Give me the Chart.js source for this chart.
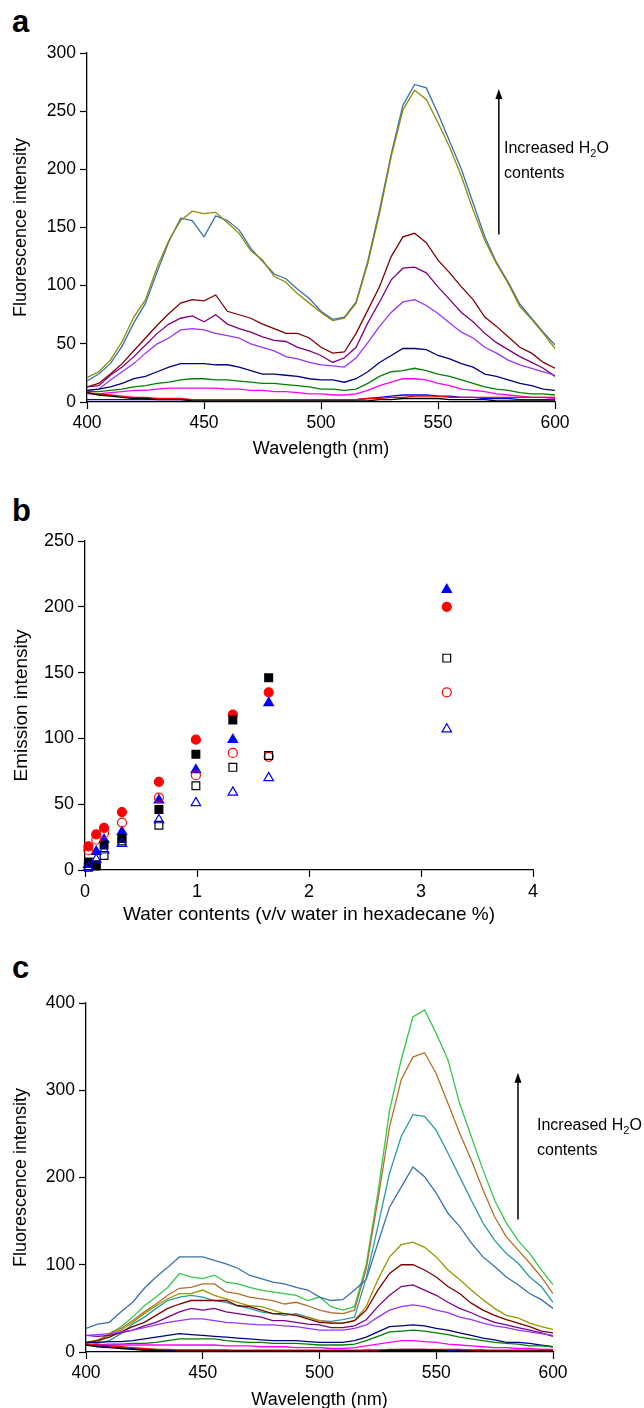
<!DOCTYPE html>
<html>
<head>
<meta charset="utf-8">
<script src="https://cdn.jsdelivr.net/npm/chart.js@4.4.1/dist/chart.umd.min.js"></script>
<style>
    body { margin: 0; width: 644px; height: 1408px; overflow: hidden; background: #fff; position: relative; font-family: "Liberation Sans", Arial, sans-serif; }
    canvas { position: absolute; left: 0; }
    .letter { position: absolute; left: 12px; font-weight: bold; font-size: 31px; line-height: 31px; }
    .note { position: absolute; font-size: 16px; line-height: 25px; color: #000; }
    .note sub { font-size: 11px; vertical-align: -4px; line-height: 0; }
</style>
</head>
<body>
<div class="letter" style="top:6px">a</div>
<div class="letter" style="top:495px">b</div>
<div class="letter" style="top:952px">c</div>

<canvas id="spectraA" width="644" height="470" style="top:0px"></canvas>
<canvas id="emissionB" width="644" height="470" style="top:470px"></canvas>
<canvas id="spectraC" width="644" height="480" style="top:940px"></canvas>

<div class="note" style="left:504px; top:135px">Increased H<sub>2</sub>O<br>contents</div>
<div class="note" style="left:537px; top:1112px">Increased H<sub>2</sub>O<br>contents</div>

<script>
// wavelength grid (nm)
const wavelengths = [400, 405, 410, 415, 420, 425, 430, 435, 440, 445, 450, 455, 460, 465, 470, 475, 480, 485, 490, 495,
    500, 505, 510, 515, 520, 525, 530, 535, 540, 545, 550, 555, 560, 565, 570, 575, 580, 585, 590, 595, 600];

// panel a spectra
const aBlack    = [8, 6, 5, 4, 3, 3, 2, 2, 2, 1, 1, 1, 1, 1, 1, 1, 1, 1, 1, 1, 1, 1, 1, 1, 1, 2, 2, 3, 3, 3, 3, 2, 2, 2, 2, 1, 1, 1, 1, 1, 1];
const aBlue     = [2, 2, 2, 2, 2, 2, 2, 2, 2, 2, 2, 2, 2, 2, 2, 2, 2, 2, 2, 2, 2, 2, 2, 2, 3, 4, 5, 6, 6, 6, 5, 5, 4, 4, 3, 3, 3, 2, 2, 2, 2];
const aRed      = [8, 7, 6, 5, 4, 4, 3, 3, 3, 2, 2, 2, 2, 2, 2, 2, 2, 2, 2, 2, 2, 2, 2, 2, 3, 3, 4, 4, 5, 5, 5, 4, 4, 4, 4, 4, 4, 4, 4, 4, 4];
const aMagenta  = [7, 7, 8, 9, 10, 10, 11, 12, 12, 12, 12, 12, 11, 11, 10, 10, 9, 9, 8, 7, 7, 6, 6, 7, 10, 14, 17, 20, 20, 19, 16, 14, 11, 10, 9, 7, 6, 5, 4, 4, 3];
const aGreen    = [9, 9, 10, 11, 13, 14, 16, 17, 19, 20, 20, 19, 19, 18, 17, 16, 16, 15, 14, 13, 11, 11, 10, 11, 16, 22, 26, 27, 29, 27, 24, 22, 19, 16, 13, 11, 10, 8, 7, 7, 6];
const aNavy     = [10, 11, 13, 16, 20, 22, 26, 30, 33, 33, 33, 32, 32, 30, 27, 24, 24, 23, 22, 20, 19, 19, 17, 20, 26, 34, 40, 46, 46, 45, 40, 37, 33, 30, 24, 22, 19, 16, 14, 11, 10];
const aViolet   = [10, 11, 19, 26, 33, 42, 50, 55, 62, 63, 62, 59, 57, 55, 50, 47, 44, 39, 37, 34, 32, 31, 30, 38, 51, 65, 77, 86, 88, 83, 76, 68, 60, 55, 47, 42, 36, 32, 29, 26, 23];
const aPurple   = [13, 14, 23, 30, 39, 49, 59, 67, 72, 74, 69, 75, 67, 63, 60, 56, 53, 52, 47, 44, 40, 34, 38, 47, 68, 86, 105, 115, 116, 111, 99, 88, 77, 69, 59, 51, 45, 39, 34, 29, 22];
const aDarkred  = [13, 16, 24, 33, 44, 55, 66, 76, 85, 88, 87, 92, 78, 75, 72, 67, 63, 59, 59, 55, 47, 42, 43, 59, 79, 99, 125, 142, 145, 137, 122, 111, 99, 88, 73, 65, 56, 47, 42, 34, 29];
const aOlive    = [21, 26, 36, 52, 73, 88, 116, 139, 156, 164, 162, 163, 154, 145, 130, 122, 108, 103, 93, 85, 77, 70, 72, 85, 119, 162, 211, 251, 268, 260, 240, 219, 194, 165, 139, 119, 102, 82, 71, 59, 46];
const aSteel    = [18, 24, 33, 48, 68, 85, 112, 138, 158, 156, 142, 160, 156, 148, 132, 121, 110, 106, 97, 89, 78, 71, 73, 86, 121, 165, 213, 255, 273, 270, 248, 224, 200, 171, 142, 120, 103, 84, 72, 60, 49];

// panel c spectra
const cBlack    = [8, 6, 5, 4, 3, 2, 2, 1, 1, 1, 1, 1, 1, 1, 1, 1, 1, 1, 1, 1, 1, 1, 1, 1, 1, 1, 2, 2, 2, 2, 2, 1, 1, 1, 1, 1, 1, 1, 1, 1, 1];
const cBlue     = [9, 7, 6, 5, 4, 3, 3, 2, 2, 2, 2, 2, 2, 1, 1, 1, 1, 1, 1, 1, 1, 1, 1, 1, 2, 2, 2, 3, 3, 3, 2, 2, 2, 2, 2, 1, 1, 1, 1, 1, 1];
const cRed      = [9, 8, 7, 6, 5, 4, 3, 3, 2, 2, 2, 2, 2, 2, 2, 2, 2, 2, 2, 2, 2, 2, 2, 2, 2, 2, 3, 3, 3, 3, 3, 3, 3, 2, 2, 2, 2, 2, 2, 2, 2];
const cMagenta  = [8, 8, 8, 8, 8, 8, 8, 8, 8, 8, 8, 8, 7, 7, 7, 6, 6, 6, 5, 5, 5, 4, 4, 5, 7, 9, 11, 13, 13, 12, 11, 9, 8, 7, 6, 5, 5, 4, 4, 3, 3];
const cDkGreen  = [8, 8, 9, 9, 10, 10, 11, 13, 15, 15, 15, 15, 13, 12, 11, 11, 10, 10, 10, 9, 8, 8, 8, 9, 13, 18, 23, 24, 25, 24, 22, 20, 17, 15, 13, 11, 10, 9, 7, 7, 6];
const cNavy     = [11, 11, 12, 12, 13, 15, 17, 19, 21, 20, 19, 18, 17, 16, 15, 14, 13, 13, 13, 12, 11, 11, 11, 13, 17, 23, 29, 30, 31, 30, 27, 25, 22, 19, 16, 14, 11, 11, 10, 8, 6];
const cViolet   = [19, 20, 21, 23, 25, 28, 31, 34, 36, 38, 38, 36, 34, 33, 32, 31, 31, 30, 29, 27, 25, 25, 25, 27, 31, 40, 48, 52, 54, 52, 48, 45, 40, 37, 33, 30, 28, 25, 23, 21, 19];
const cPurple   = [19, 18, 19, 22, 25, 30, 34, 40, 46, 50, 48, 50, 46, 44, 42, 40, 36, 36, 34, 32, 31, 28, 28, 30, 37, 52, 65, 75, 77, 71, 65, 57, 50, 45, 39, 34, 31, 28, 25, 22, 18];
const cDarkred  = [11, 13, 17, 23, 29, 34, 42, 50, 55, 59, 59, 59, 59, 53, 52, 48, 44, 44, 42, 38, 34, 33, 33, 36, 48, 71, 90, 100, 100, 94, 86, 75, 67, 56, 48, 42, 37, 33, 29, 24, 22];
const cOlive    = [10, 14, 19, 25, 34, 44, 53, 61, 67, 67, 71, 65, 61, 57, 53, 52, 48, 44, 42, 40, 36, 33, 33, 36, 52, 83, 109, 123, 126, 120, 109, 94, 83, 71, 60, 50, 42, 39, 33, 29, 26];
const cTeal     = [8, 10, 13, 21, 32, 40, 50, 59, 63, 65, 63, 59, 57, 53, 50, 46, 44, 42, 44, 40, 36, 35, 37, 40, 85, 144, 205, 247, 272, 270, 254, 228, 201, 174, 148, 128, 113, 102, 86, 75, 57];
const cSteel    = [27, 32, 34, 46, 57, 73, 86, 97, 109, 109, 109, 105, 101, 96, 88, 84, 80, 78, 74, 71, 63, 59, 60, 71, 83, 125, 166, 189, 212, 201, 182, 159, 144, 125, 109, 98, 86, 77, 67, 60, 50];
const cBrown    = [10, 13, 21, 27, 36, 46, 55, 65, 73, 74, 78, 78, 69, 67, 63, 61, 59, 55, 57, 53, 48, 45, 44, 48, 95, 174, 258, 312, 338, 343, 319, 285, 251, 220, 186, 155, 132, 117, 102, 86, 67];
const cGreen    = [10, 11, 21, 29, 40, 53, 63, 74, 90, 86, 84, 88, 80, 78, 74, 71, 69, 67, 65, 59, 63, 52, 48, 52, 100, 182, 277, 335, 384, 392, 365, 335, 285, 247, 209, 174, 148, 128, 113, 94, 77];

// panel b: water contents (v/v %) and emission intensities
const waterContent   = [0.03, 0.1, 0.17, 0.33, 0.66, 0.99, 1.32, 1.64, 3.23];
const filledSquare   = [6, 4, 19, 24, 46, 88, 114, 146, null];
const filledCircle   = [18, 27, 32, 44, 67, 99, 118, 135, 200];
const filledTriangle = [4, 14, 23, 29, 53, 76, 99, 127, 213];
const openSquare     = [2, 3, 11, 22, 34, 64, 78, 87, 161];
const openCircle     = [15, 23, 28, 36, 55, 72, 89, 86, 135];
const openTriangle   = [2, 8, 15, 20, 38, 51, 59, 70, 107];

Chart.defaults.font.family = "'Liberation Sans', Arial, sans-serif";
Chart.defaults.color = '#000';
Chart.defaults.animation = false;

function toPoints(xs, ys) {
    return xs.map((x, i) => ({ x: x, y: ys[i] }));
}

// draws the "increased H2O" arrow in data coordinates
const arrowPlugin = {
    id: 'arrow',
    afterDatasetsDraw(chart, args, opts) {
        if (opts.x === undefined) return;
        const px = chart.scales.x.getPixelForValue(opts.x);
        const yFrom = chart.scales.y.getPixelForValue(opts.from);
        const yTo = chart.scales.y.getPixelForValue(opts.to);
        const ctx = chart.ctx;
        ctx.save();
        ctx.strokeStyle = '#000';
        ctx.fillStyle = '#000';
        ctx.lineWidth = 1.5;
        ctx.beginPath();
        ctx.moveTo(px, yFrom);
        ctx.lineTo(px, yTo + 6);
        ctx.stroke();
        ctx.beginPath();
        ctx.moveTo(px, yTo);
        ctx.lineTo(px - 3.5, yTo + 10);
        ctx.lineTo(px + 3.5, yTo + 10);
        ctx.closePath();
        ctx.fill();
        ctx.restore();
    }
};

function axisStyle(min, max, step, title, tickSize, titleSize, titlePad) {
    return {
        type: 'linear',
        min: min,
        max: max,
        ticks: { stepSize: step, font: { size: tickSize }, padding: 4, maxRotation: 0, autoSkip: false, color: '#000' },
        grid: { drawOnChartArea: false, tickLength: 7, tickColor: '#000', tickWidth: 1.2 },
        border: { color: '#000', width: 1.3 },
        title: { display: true, text: title, font: { size: titleSize }, padding: titlePad }
    };
}

function drawSpectra(canvasId, series, xs, yMax, yStep, box, arrow) {
    const ctx = document.getElementById(canvasId).getContext('2d');
    const xAxis = axisStyle(400, 600, 50, 'Wavelength (nm)', 17.5, 18, { top: 0, bottom: box.xTitlePad });
    xAxis.afterFit = scale => { scale.height = box.xHeight; };
    const yAxis = axisStyle(0, yMax, yStep, 'Fluorescence intensity', 17.5, 18, { top: 10, bottom: 0 });
    yAxis.afterFit = scale => { scale.width = box.yWidth; };

    new Chart(ctx, {
        type: 'line',
        data: {
            datasets: series.map(s => ({
                data: toPoints(xs, s.values),
                borderColor: s.color,
                borderWidth: 1.3,
                pointRadius: 0,
                fill: false,
                tension: 0
            }))
        },
        options: {
            responsive: false,
            layout: { padding: { top: box.top, right: box.right, bottom: 0, left: 0 } },
            scales: { x: xAxis, y: yAxis },
            plugins: { legend: { display: false }, tooltip: { enabled: false }, arrow: arrow }
        },
        plugins: [arrowPlugin]
    });
}

drawSpectra('spectraA', [
    { values: aBlack, color: '#000000' },
    { values: aRed, color: '#ff0000' },
    { values: aBlue, color: '#0000ff' },
    { values: aMagenta, color: '#ff00ff' },
    { values: aGreen, color: '#008000' },
    { values: aNavy, color: '#000080' },
    { values: aViolet, color: '#9933ff' },
    { values: aPurple, color: '#800080' },
    { values: aDarkred, color: '#800000' },
    { values: aOlive, color: '#8c8c00' },
    { values: aSteel, color: '#3a70b0' }
], wavelengths, 300, 50, { top: 53, right: 89, yWidth: 87, xHeight: 68, xTitlePad: 10 }, { x: 576, from: 144, to: 269 });

drawSpectra('spectraC', [
    { values: cBlack, color: '#000000' },
    { values: cRed, color: '#ff0000' },
    { values: cBlue, color: '#0000ff' },
    { values: cMagenta, color: '#ff00ff' },
    { values: cDkGreen, color: '#008000' },
    { values: cNavy, color: '#000080' },
    { values: cViolet, color: '#9933ff' },
    { values: cPurple, color: '#800080' },
    { values: cDarkred, color: '#800000' },
    { values: cOlive, color: '#999900' },
    { values: cTeal, color: '#2a9aa6' },
    { values: cSteel, color: '#3a70b0' },
    { values: cBrown, color: '#b3702a' },
    { values: cGreen, color: '#33c84a' }
], wavelengths, 400, 100, { top: 63, right: 91, yWidth: 86, xHeight: 68, xTitlePad: 9 }, { x: 585, from: 152, to: 320 });

// panel b scatter
function markerSet(values, style, color, filled, radius) {
    return {
        data: toPoints(waterContent, values),
        showLine: false,
        pointStyle: style,
        pointRadius: radius,
        pointBorderColor: color,
        pointBackgroundColor: filled ? color : 'rgba(255,255,255,0)',
        pointBorderWidth: 1.2,
        clip: false
    };
}

const bX = axisStyle(0, 4, 1, 'Water contents (v/v water in hexadecane %)', 18, 19, { top: 0, bottom: 14 });
bX.afterFit = scale => { scale.height = 70; };
const bY = axisStyle(0, 250, 50, 'Emission intensity', 18, 19, { top: 10, bottom: 0 });
bY.afterFit = scale => { scale.width = 85; };

new Chart(document.getElementById('emissionB').getContext('2d'), {
    type: 'scatter',
    data: {
        datasets: [
            markerSet(openTriangle, 'triangle', '#0000ff', false, 5.5),
            markerSet(openSquare, 'rect', '#000000', false, 5.5),
            markerSet(openCircle, 'circle', '#ff0000', false, 4.5),
            markerSet(filledSquare, 'rect', '#000000', true, 5.5),
            markerSet(filledTriangle, 'triangle', '#0000ff', true, 5.5),
            markerSet(filledCircle, 'circle', '#ff0000', true, 4.5)
        ]
    },
    options: {
        responsive: false,
        layout: { padding: { top: 71, right: 111, bottom: 0, left: 0 } },
        scales: { x: bX, y: bY },
        plugins: { legend: { display: false }, tooltip: { enabled: false } }
    }
});
</script>
</body>
</html>
